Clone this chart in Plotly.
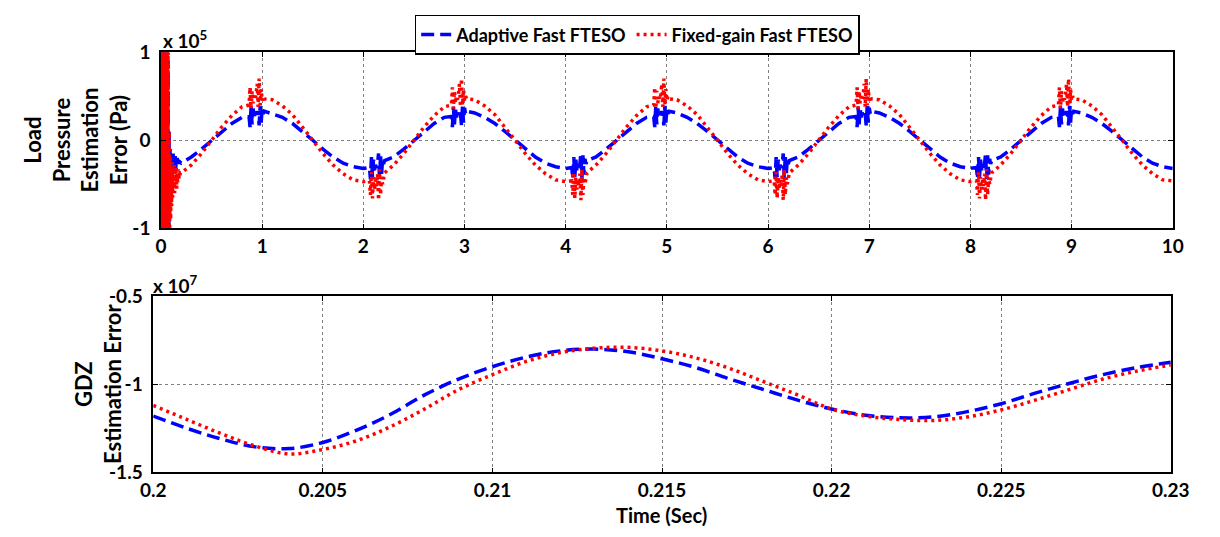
import plotly.graph_objects as go

# ---------------- data (top panel, values in units of 1e5 Pa) ----------------
base_t = [round(0.2 + 0.1 * i, 1) for i in range(99)]  # 0.2 .. 10.0 s

blue_base = [
    -0.26, -0.19, -0.10, 0.00, 0.10, 0.19, 0.26, 0.30, 0.32, 0.30, 0.26, 0.19, 0.10, 0.00, -0.10, -0.19, -0.26, -0.30,
    -0.32, -0.30, -0.26, -0.19, -0.10, 0.00, 0.10, 0.19, 0.26, 0.30, 0.32, 0.31, 0.26, 0.19, 0.10, 0.00, -0.10, -0.19, -0.26, -0.30,
    -0.32, -0.30, -0.26, -0.19, -0.10, 0.00, 0.10, 0.19, 0.26, 0.30, 0.32, 0.31, 0.26, 0.19, 0.10, 0.00, -0.10, -0.19, -0.26, -0.30,
    -0.32, -0.30, -0.26, -0.19, -0.10, 0.00, 0.10, 0.19, 0.26, 0.30, 0.32, 0.31, 0.26, 0.19, 0.10, 0.00, -0.10, -0.19, -0.26, -0.30,
    -0.32, -0.30, -0.26, -0.19, -0.10, 0.00, 0.10, 0.19, 0.26, 0.30, 0.32, 0.31, 0.26, 0.19, 0.10, 0.00, -0.10, -0.19, -0.26, -0.30,
    -0.32,
]
red_base = [
    -0.37, -0.28, -0.15, 0.00, 0.15, 0.28, 0.38, 0.45, 0.47, 0.46, 0.39, 0.29, 0.15, 0.00, -0.15, -0.28, -0.38, -0.45,
    -0.47, -0.45, -0.38, -0.28, -0.15, 0.00, 0.15, 0.28, 0.38, 0.45, 0.47, 0.46, 0.39, 0.29, 0.15, 0.00, -0.15, -0.28, -0.38, -0.45,
    -0.47, -0.45, -0.38, -0.28, -0.15, 0.00, 0.15, 0.28, 0.38, 0.45, 0.47, 0.46, 0.39, 0.29, 0.15, 0.00, -0.15, -0.28, -0.38, -0.45,
    -0.47, -0.45, -0.38, -0.28, -0.15, 0.00, 0.15, 0.28, 0.38, 0.45, 0.47, 0.46, 0.39, 0.29, 0.15, 0.00, -0.15, -0.28, -0.38, -0.45,
    -0.47, -0.45, -0.38, -0.28, -0.15, 0.00, 0.15, 0.28, 0.38, 0.45, 0.47, 0.46, 0.39, 0.29, 0.15, 0.00, -0.15, -0.28, -0.38, -0.45,
    -0.46,
]

# start-up transient
init_t = [0.000, 0.0025, 0.005, 0.0075, 0.010, 0.0125, 0.015, 0.0175, 0.020, 0.0225, 0.025, 0.0275, 0.030, 0.0325,
          0.035, 0.0375, 0.040, 0.0425, 0.045, 0.0475, 0.050, 0.0525, 0.055, 0.0575, 0.060, 0.0625, 0.065, 0.0675,
          0.070, 0.0725, 0.075, 0.0775, 0.080, 0.085, 0.090, 0.095, 0.100, 0.105, 0.110, 0.115, 0.120, 0.125, 0.130,
          0.135, 0.140, 0.145, 0.150, 0.155, 0.160, 0.165, 0.170, 0.175, 0.180, 0.185, 0.190]
init_blue = [1.6, -1.6, 1.6, -1.6, 1.6, -1.6, 1.6, -1.6, 1.6, -1.6, 1.6, -1.6, 1.6, -1.6,
             1.6, -1.6, 1.6, -1.6, 1.6, -1.6, 1.6, -1.6, 1.6, -1.6, 1.6, -1.6, 1.6, -1.6,
             0.9, -1.2, 0.4, -1.0, 0.1, -0.7, -0.1, -0.5, -0.15, -0.42, -0.18, -0.38, -0.15, -0.35, -0.20,
             -0.33, -0.18, -0.32, -0.22, -0.30, -0.20, -0.28, -0.22, -0.27, -0.23, -0.26, -0.25]
init_red = [1.8, -1.8, 1.8, -1.8, 1.8, -1.8, 1.8, -1.8, 1.8, -1.8, 1.8, -1.8, 1.8, -1.8,
            1.8, -1.8, 1.8, -1.8, 1.8, -1.8, 1.8, -1.8, 1.8, -1.8, 1.8, -1.8, 1.8, -1.8,
            1.2, -1.5, 0.6, -1.3, 0.1, -1.1, -0.2, -0.9, -0.3, -0.75, -0.25, -0.65, -0.30, -0.55, -0.28,
            -0.60, -0.35, -0.50, -0.30, -0.55, -0.38, -0.48, -0.33, -0.45, -0.36, -0.42, -0.37]

# chattering bursts near each peak / trough
burst_dt = [0.00, 0.01, 0.02, 0.03, 0.04, 0.05, 0.06, 0.07, 0.08, 0.09, 0.10, 0.11, 0.12, 0.13, 0.14, 0.15]
peak_starts = [0.87, 2.87, 4.87, 6.87, 8.87]
peak_blue = [0.27, 0.15, 0.38, 0.18, 0.36, 0.26, 0.31, 0.29, 0.33, 0.30, 0.17, 0.39, 0.20, 0.37, 0.30, 0.33]
peak_red = [0.40, 0.60, 0.36, 0.56, 0.42, 0.50, 0.46, 0.52, 0.64, 0.38, 0.70, 0.40, 0.58, 0.45, 0.50, 0.47]
trough_starts = [2.06, 4.06, 6.06, 8.06]
trough_blue = [-0.31, -0.44, -0.19, -0.42, -0.22, -0.34, -0.28, -0.31, -0.27, -0.15, -0.44, -0.17, -0.39, -0.21, -0.27, -0.23]
trough_red = [-0.46, -0.62, -0.36, -0.66, -0.42, -0.56, -0.45, -0.52, -0.38, -0.68, -0.33, -0.62, -0.42, -0.50, -0.40, -0.37]

# ---------------- data (bottom panel, values in units of 1e7) ----------------
zoom_t = [0.200, 0.201, 0.202, 0.203, 0.204, 0.205, 0.206, 0.207, 0.208, 0.209, 0.210, 0.211, 0.212, 0.213, 0.214,
          0.215, 0.216, 0.217, 0.218, 0.219, 0.220, 0.221, 0.222, 0.223, 0.224, 0.225, 0.226, 0.227, 0.228, 0.229, 0.230]
gdz_blue = [-1.18, -1.25, -1.31, -1.355, -1.365, -1.33, -1.26, -1.17, -1.06, -0.97, -0.90, -0.845, -0.81, -0.80, -0.815,
            -0.855, -0.905, -0.97, -1.03, -1.09, -1.14, -1.175, -1.19, -1.185, -1.155, -1.11, -1.05, -0.995, -0.945, -0.905, -0.875]
gdz_red = [-1.12, -1.20, -1.28, -1.35, -1.395, -1.37, -1.32, -1.24, -1.14, -1.03, -0.945, -0.87, -0.82, -0.795, -0.79,
           -0.81, -0.85, -0.91, -0.985, -1.06, -1.14, -1.18, -1.20, -1.205, -1.185, -1.145, -1.09, -1.03, -0.97, -0.925, -0.89]

top_xticks = [0, 1, 2, 3, 4, 5, 6, 7, 8, 9, 10]
top_xlabels = ["0", "1", "2", "3", "4", "5", "6", "7", "8", "9", "10"]
top_yticks = [-1, 0, 1]
top_ylabels = ["-1", "0", "1"]
bot_xticks = [0.2, 0.205, 0.21, 0.215, 0.22, 0.225, 0.23]
bot_xlabels = ["0.2", "0.205", "0.21", "0.215", "0.22", "0.225", "0.23"]
bot_yticks = [-1.5, -1, -0.5]
bot_ylabels = ["-1.5", "-1", "-0.5"]


def bold(labels):
    return ["<b>%s</b>" % s for s in labels]


def assemble(base_y, iy, pk, tr):
    windows = [(s, s + 0.15) for s in peak_starts] + [(s, s + 0.15) for s in trough_starts]
    pts = list(zip(init_t, iy))
    for t, y in zip(base_t, base_y):
        if not any(a - 1e-9 <= t <= b + 1e-9 for a, b in windows):
            pts.append((t, y))
    for s in peak_starts:
        pts += [(round(s + d, 4), v) for d, v in zip(burst_dt, pk)]
    for s in trough_starts:
        pts += [(round(s + d, 4), v) for d, v in zip(burst_dt, tr)]
    pts.sort(key=lambda p: p[0])
    return [p[0] for p in pts], [p[1] for p in pts]


bx, by = assemble(blue_base, init_blue, peak_blue, trough_blue)
rx, ry = assemble(red_base, init_red, peak_red, trough_red)

BLUE = "#0000FF"
RED = "#FF0000"
blue_line = dict(color=BLUE, width=3.5, dash="13px,6px")
red_line = dict(color=RED, width=3.5, dash="3px,4px")

fig = go.Figure()
fig.add_trace(go.Scatter(x=bx, y=by, mode="lines", line=blue_line, name="<b>Adaptive Fast FTESO</b>",
                         xaxis="x", yaxis="y"))
fig.add_trace(go.Scatter(x=rx, y=ry, mode="lines", line=red_line, name="<b>Fixed-gain Fast FTESO</b>",
                         xaxis="x", yaxis="y"))
fig.add_trace(go.Scatter(x=zoom_t, y=gdz_blue, mode="lines", line=blue_line, line_shape="spline",
                         showlegend=False, xaxis="x2", yaxis="y2"))
fig.add_trace(go.Scatter(x=zoom_t, y=gdz_red, mode="lines", line=red_line, line_shape="spline",
                         showlegend=False, xaxis="x2", yaxis="y2"))

W, H = 1220, 537
FONT = "Lato"
tickfont = dict(family=FONT, size=19, color="black")
common = dict(showline=True, linecolor="black", linewidth=1.5, mirror="allticks", ticks="inside",
              ticklen=5, tickcolor="black", tickwidth=1, showgrid=True, gridcolor="#808080",
              griddash="dot", gridwidth=1, zeroline=False, tickfont=tickfont, fixedrange=True)

fig.update_layout(
    width=W, height=H,
    margin=dict(l=0, r=0, t=0, b=0),
    paper_bgcolor="white", plot_bgcolor="white",
    font=dict(family=FONT, color="black"),
    xaxis=dict(domain=[152 / W, 1191 / W], range=[0, 10], tickvals=top_xticks, ticktext=bold(top_xlabels),
               anchor="y", ticklabelstandoff=0, **common),
    yaxis=dict(domain=[1 - 226 / H, 1 - 42 / H], range=[-1, 1], tickvals=top_yticks, ticktext=bold(top_ylabels),
               anchor="x", ticklabelstandoff=5, **common),
    xaxis2=dict(domain=[144 / W, 1189 / W], range=[0.2, 0.23], tickvals=bot_xticks, ticktext=bold(bot_xlabels),
                anchor="y2", ticklabelstandoff=0, **common),
    yaxis2=dict(domain=[1 - 481 / H, 1 - 297 / H], range=[-1.5, -0.5], tickvals=bot_yticks,
                ticktext=bold(bot_ylabels), anchor="x2", ticklabelstandoff=5, **common),
    legend=dict(orientation="h", x=641 / W, xanchor="center", y=1 - 3 / H, yanchor="top",
                bordercolor="black", borderwidth=1.5, bgcolor="white",
                font=dict(family=FONT, size=18, color="black"), itemwidth=30,
                tracegroupgap=0),
    showlegend=True,
)

ann_font = dict(family=FONT, size=22, color="black")
fig.add_annotation(xref="paper", yref="paper", x=64 / W, y=1 - 134 / H, textangle=-90, showarrow=False,
                   xanchor="center", yanchor="middle",
                   text="<b>Load<br>Pressure<br>Estimation<br>Error (Pa)</b>", font=ann_font, align="center")
fig.add_annotation(xref="paper", yref="paper", x=88 / W, y=1 - 389 / H, textangle=-90, showarrow=False,
                   xanchor="center", yanchor="middle",
                   text="<b>GDZ<br>Estimation Error</b>", font=ann_font, align="center")
fig.add_annotation(xref="paper", yref="paper", x=152 / W, y=1 - 29 / H, xanchor="left", yanchor="middle",
                   showarrow=False, text="<b>x 10<sup>5</sup></b>", font=dict(family=FONT, size=19, color="black"))
fig.add_annotation(xref="paper", yref="paper", x=142 / W, y=1 - 285 / H, xanchor="left", yanchor="middle",
                   showarrow=False, text="<b>x 10<sup>7</sup></b>", font=dict(family=FONT, size=19, color="black"))
fig.add_annotation(xref="paper", yref="paper", x=666 / W, y=1 - 525 / H, xanchor="center", yanchor="middle",
                   showarrow=False, text="<b>Time (Sec)</b>", font=dict(family=FONT, size=20, color="black"))

fig.write_html("out.html")
